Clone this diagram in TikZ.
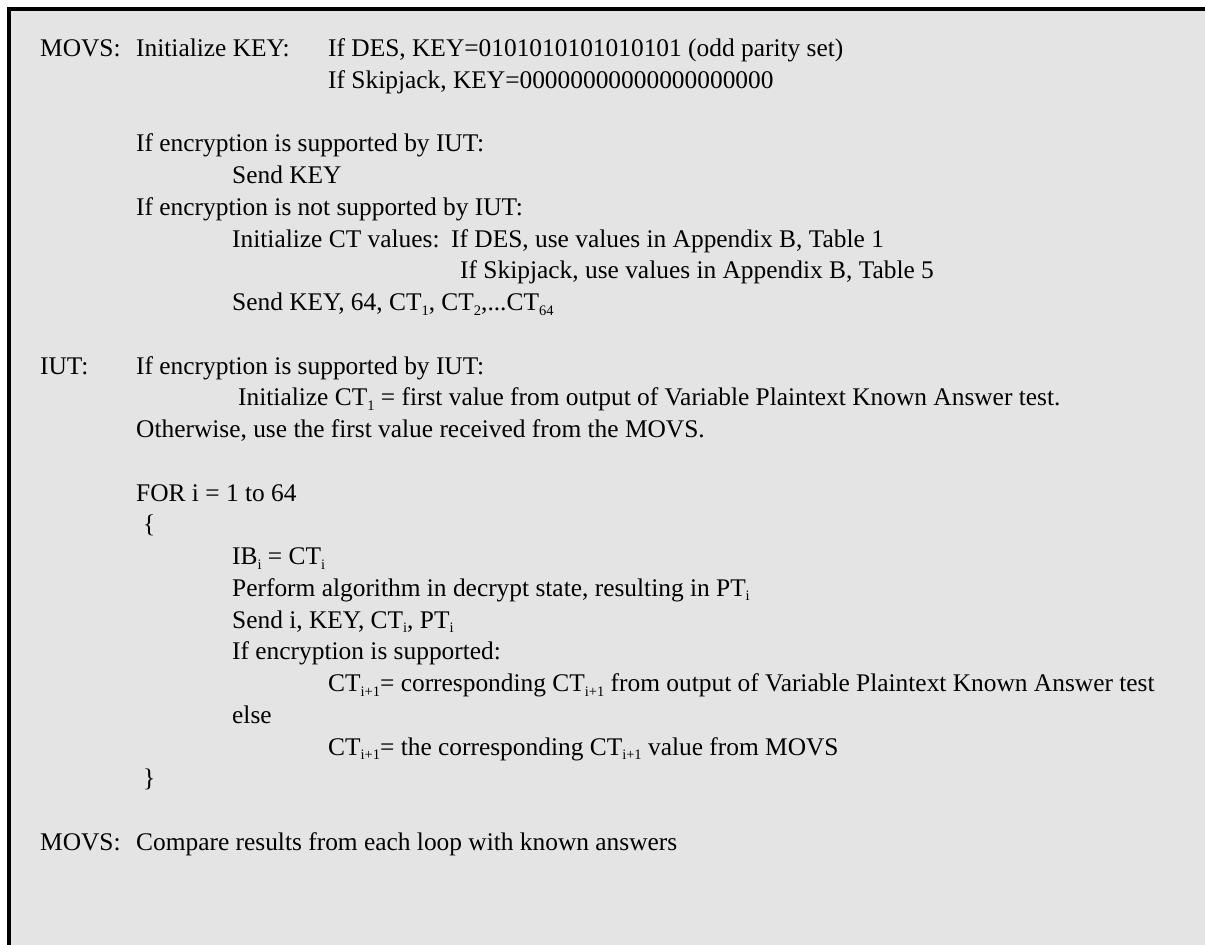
\documentclass[tikz,border=0pt]{standalone}
\usepackage{fontspec}
\setmainfont{Liberation Serif}
\definecolor{panel}{HTML}{E4E4E4}
\newcommand\sbs[1]{\raisebox{-4.5pt}{\fontsize{14.5}{14.5}\selectfont #1}}
\begin{document}
\begin{tikzpicture}[x=1pt,y=-1pt,
  txt/.style={anchor=base west,inner sep=0pt,font=\fontsize{25.4}{31.75}\selectfont},
  frameband/.style={fill=black}]
\useasboundingbox (0,0) rectangle (1205,945);
\fill[white] (0,0) rectangle (1205,945);
\fill[panel] (11,11) rectangle (1205,945);
\fill[frameband] (7,7) rectangle (1205,11);
\fill[frameband] (7,7) rectangle (11,945);
\def\P{31.75}
\def\B{56.5}
\node[txt] (m1) at (40,\B) {MOVS:};
\node[txt] (ik) at (136,\B) {Initialize KEY:};
\node[txt] (des) at (328,\B) {If DES, KEY=0101010101010101 (odd parity set)};
\node[txt] (skj) at (328,\B+\P) {If Skipjack, KEY=00000000000000000000};
\node[txt] (e1) at (136,\B+3*\P) {If encryption is supported by IUT:};
\node[txt] (sk) at (232,\B+4*\P) {Send KEY};
\node[txt] (e2) at (136,\B+5*\P) {If encryption is not supported by IUT:};
\node[txt] (ict) at (232,\B+6*\P) {Initialize CT values:};
\node[txt] (udes) at (451,\B+6*\P) {If DES, use values in Appendix B, Table 1};
\node[txt] (uskj) at (460,\B+7*\P) {If Skipjack, use values in Appendix B, Table 5};
\node[txt] (sk64) at (232,\B+8*\P) {Send KEY, 64, CT\sbs{1}, CT\sbs{2},...CT\sbs{64}};
\node[txt] (iut) at (40,\B+10*\P) {IUT:};
\node[txt] (e3) at (136,\B+10*\P) {If encryption is supported by IUT:};
\node[txt] (ict1) at (238,\B+11*\P) {Initialize CT\sbs{1} = first value from output of Variable Plaintext Known Answer test.};
\node[txt] (oth) at (136,\B+12*\P) {Otherwise, use the first value received from the MOVS.};
\node[txt] (for) at (136,\B+14*\P) {FOR i = 1 to 64};
\node[txt] (lb) at (143,\B+15*\P) {\{};
\node[txt] (ib) at (232,\B+16*\P) {IB\sbs{i} = CT\sbs{i}};
\node[txt] (perf) at (232,\B+17*\P) {Perform algorithm in decrypt state, resulting in PT\sbs{i}};
\node[txt] (send) at (232,\B+18*\P) {Send i, KEY, CT\sbs{i}, PT\sbs{i}};
\node[txt] (e4) at (232,\B+19*\P) {If encryption is supported:};
\node[txt] (ct1) at (328,\B+20*\P) {CT\sbs{i+1}= corresponding CT\sbs{i+1} from output of Variable Plaintext Known Answer test};
\node[txt] (els) at (232,\B+21*\P) {else};
\node[txt] (ct2) at (328,\B+22*\P) {CT\sbs{i+1}= the corresponding CT\sbs{i+1} value from MOVS};
\node[txt] (rb) at (143,\B+23*\P) {\}};
\node[txt] (m2) at (40,\B+25*\P) {MOVS:};
\node[txt] (cmp) at (136,\B+25*\P) {Compare results from each loop with known answers};
\end{tikzpicture}
\end{document}
